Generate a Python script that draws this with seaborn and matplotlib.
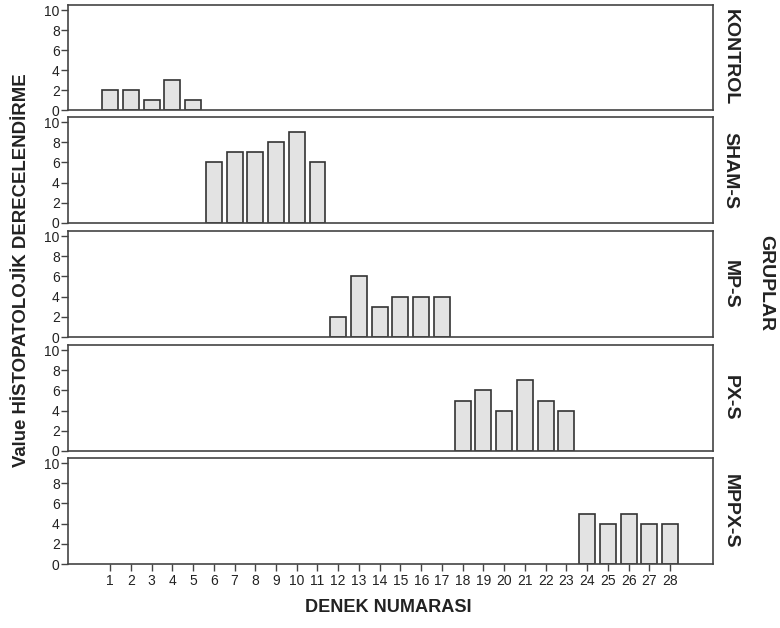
import matplotlib
matplotlib.use("Agg")
import matplotlib.pyplot as plt
import seaborn as sns
import pandas as pd

sns.set_theme(style="white")
plt.rcParams['font.family'] = ['Liberation Sans', 'DejaVu Sans']

groups = ["KONTROL", "SHAM-S", "MP-S", "PX-S", "MPPX-S"]
subjects = [str(i) for i in range(1, 29)]

kontrol_x = ["1", "2", "3", "4", "5"]
kontrol_y = [2, 2, 1, 3, 1]
sham_x = ["6", "7", "8", "9", "10", "11"]
sham_y = [6, 7, 7, 8, 9, 6]
mp_x = ["12", "13", "14", "15", "16", "17"]
mp_y = [2, 6, 3, 4, 4, 4]
px_x = ["18", "19", "20", "21", "22", "23"]
px_y = [5, 6, 4, 7, 5, 4]
mppx_x = ["24", "25", "26", "27", "28"]
mppx_y = [5, 4, 5, 4, 4]

series = [(kontrol_x, kontrol_y), (sham_x, sham_y), (mp_x, mp_y),
          (px_x, px_y), (mppx_x, mppx_y)]

W, H = 780, 628
fig = plt.figure(figsize=(W / 100, H / 100), dpi=100)

left_px, right_px = 68, 713
panels_px = [(5, 110), (117, 223), (231, 337), (345, 451), (458, 564)]

spine_col = "#444444"
for i, (g, (xs, ys)) in enumerate(zip(groups, series)):
    top, bot = panels_px[i]
    ax = fig.add_axes([left_px / W, 1 - bot / H, (right_px - left_px) / W, (bot - top) / H])
    df = pd.DataFrame({"subject": xs, "value": ys})
    sns.barplot(data=df, x="subject", y="value", order=subjects, ax=ax,
                color="#e3e3e3", edgecolor="#333333", linewidth=1.2,
                width=0.77, saturation=1, errorbar=None)
    ax.set_xlim(-2.03, 29.07)
    ax.set_ylim(0, 10.5)
    ax.set_yticks([0, 2, 4, 6, 8, 10])
    ax.set_xlabel("")
    ax.set_ylabel("")
    for s in ax.spines.values():
        s.set_color(spine_col)
        s.set_linewidth(1.2)
    ax.tick_params(axis="y", which="both", left=True, length=5, width=1,
                   color=spine_col, labelsize=10, pad=1, labelcolor="#222222")
    if i < 4:
        ax.tick_params(axis="x", bottom=False, labelbottom=False)
    else:
        ax.tick_params(axis="x", bottom=True, length=5, width=1, color=spine_col,
                       labelsize=10, pad=2, labelcolor="#222222")
    ax.text(1.013, 0.5, g, transform=ax.transAxes, rotation=-90,
            ha="left", va="center", fontsize=14, fontweight="bold", color="#222222")

fig.text(22 / W, 1 - 270 / H, "Value HİSTOPATOLOJİK DERECELENDİRME", rotation=90,
         ha="center", va="center", fontsize=13.4, fontweight="bold", color="#222222")
fig.text(388 / W, 1 - 607 / H, "DENEK NUMARASI", ha="center", va="center",
         fontsize=13.1, fontweight="bold", color="#222222")
fig.text(766 / W, 1 - 283 / H, "GRUPLAR", rotation=-90, ha="center", va="center",
         fontsize=14, fontweight="bold", color="#222222")

fig.savefig("out.png", dpi=100)
